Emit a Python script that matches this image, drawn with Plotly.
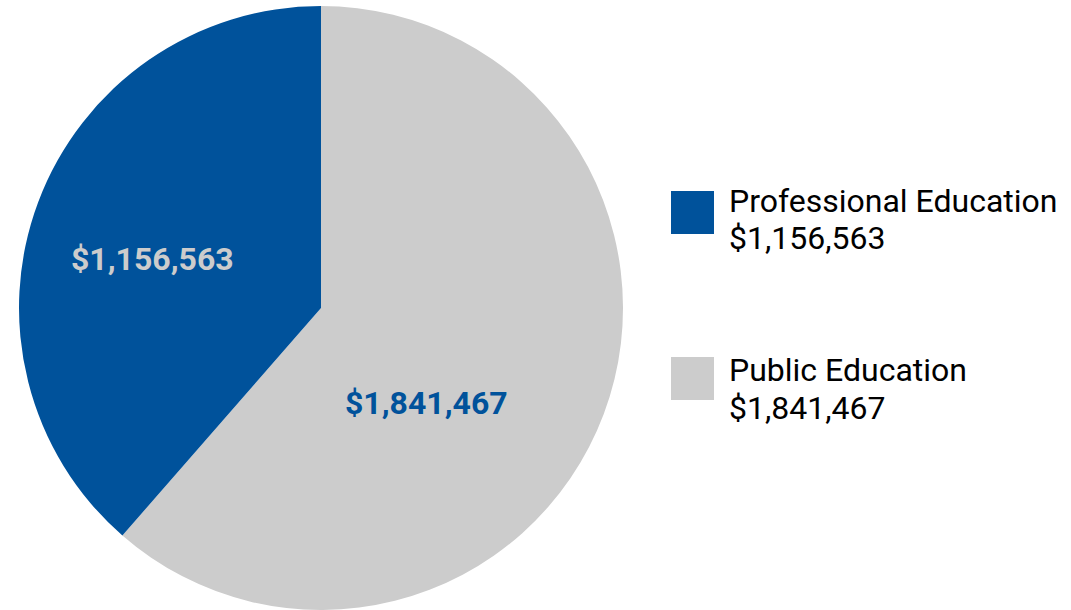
import plotly.graph_objects as go

labels = ["Professional Education", "Public Education"]
values = [1156563, 1841467]
colors = ["#00529B", "#CCCCCC"]
label_colors = ["#CCCCCC", "#00529B"]

W, H = 1071, 610
cx, cy, r = 321, 308, 302

fig = go.Figure()
# drawn clockwise from 12 o'clock with Public first, so Professional sits left of 12 o'clock
fig.add_trace(go.Pie(
    labels=labels[::-1],
    values=values[::-1],
    sort=False,
    direction="clockwise",
    rotation=0,
    marker=dict(colors=colors[::-1], line=dict(width=0)),
    textinfo="none",
    domain=dict(x=[max(0, (cx - r) / W), (cx + r) / W],
                y=[max(0, (H - cy - r) / H), min(1, (H - cy + r) / H)]),
    showlegend=False,
    hoverinfo="label+value",
))

# value labels on slices
slice_label_pos = [(152, 258.5), (426, 403)]
for i, val in enumerate(values):
    x, y = slice_label_pos[i]
    fig.add_annotation(xref="paper", yref="paper", x=x / W, y=1 - y / H,
                       xanchor="center", yanchor="middle", showarrow=False,
                       text=f"<b>${val:,}</b>",
                       font=dict(family="Roboto", size=32, color=label_colors[i]))

# custom legend
leg_y = [191, 357]
leg_line_centers = [(200.5, 238), (370, 407.5)]
for i, (lab, val) in enumerate(zip(labels, values)):
    y0 = leg_y[i]
    fig.add_shape(type="rect", xref="paper", yref="paper",
                  x0=671 / W, x1=714 / W, y0=1 - (y0 + 43) / H, y1=1 - y0 / H,
                  fillcolor=colors[i], line=dict(width=0))
    for txt, yc in zip([lab, f"${val:,}"], leg_line_centers[i]):
        fig.add_annotation(xref="paper", yref="paper", x=727 / W, y=1 - yc / H,
                           xanchor="left", yanchor="middle", align="left", showarrow=False,
                           text=txt,
                           font=dict(family="Roboto", size=32, color="#000000"))

fig.update_layout(
    width=W, height=H,
    margin=dict(l=0, r=0, t=0, b=0),
    paper_bgcolor="white",
    plot_bgcolor="white",
    font=dict(family="Roboto"),
)
fig.write_html("out.html", config={"displayModeBar": False},
               post_script="document.body.style.margin='0';")
